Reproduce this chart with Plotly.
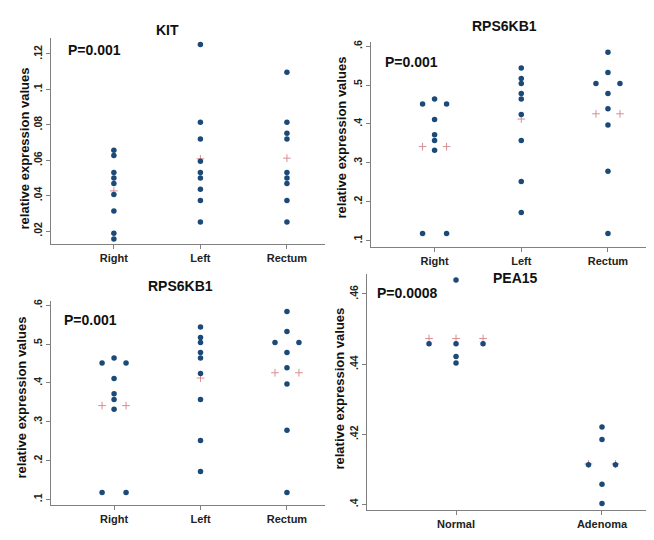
import plotly.graph_objects as go
import numpy as np

# data
regions = ["Right", "Left", "Rectum"]
kit_right = [0.0656, 0.0626, 0.053, 0.050, 0.0468, 0.0406, 0.0313, 0.0187, 0.0155]
kit_left = [0.1254, 0.0814, 0.072, 0.0594, 0.053, 0.050, 0.0436, 0.0373, 0.0251]
kit_rectum = [0.1097, 0.0814, 0.0752, 0.072, 0.053, 0.050, 0.0468, 0.0373, 0.0251]
kit_ticks = [0.02, 0.04, 0.06, 0.08, 0.10, 0.12]
kit_ticktext = [".02", ".04", ".06", ".08", ".1", ".12"]

rps_right = [0.464, 0.451, 0.451, 0.411, 0.372, 0.357, 0.332, 0.118, 0.118]
rps_left = [0.544, 0.517, 0.504, 0.478, 0.464, 0.424, 0.357, 0.252, 0.172]
rps_rectum = [0.584, 0.532, 0.504, 0.504, 0.478, 0.439, 0.397, 0.278, 0.118]
rps_ticks = [0.1, 0.2, 0.3, 0.4, 0.5, 0.6]
rps_ticktext = [".1", ".2", ".3", ".4", ".5", ".6"]

tissue = ["Normal", "Adenoma"]
pea_normal = [0.464, 0.4458, 0.4458, 0.4458, 0.4422, 0.4403]
pea_adenoma = [0.4221, 0.4185, 0.4113, 0.4113, 0.4058, 0.4003]
pea_ticks = [0.40, 0.42, 0.44, 0.46]
pea_ticktext = [".4", ".42", ".44", ".46"]

# the page body keeps its default 8px margin, so the figure is 8px smaller
# on each side and window coordinates are shifted by that much
OFF = 8
W, H = 654 - OFF, 540 - 2 * OFF
NAVY = "#1b4a78"
MEAN_RED = "#d98e92"
AXIS = "#808080"
FONT = "Liberation Sans"


def px(x, y):
    return (x - OFF) / W, 1 - (y - OFF) / H


panels = [
    dict(title="KIT", pval="P=0.001", cats=regions, groups=[kit_right, kit_left, kit_rectum],
         ticks=kit_ticks, ticktext=kit_ticktext, box=(50.7, 36.5, 325, 242.5),
         xr=[0.27, 3.44], yr=[0.0129, 0.1288], gap=0.277,
         tpos=(167, 28), ppos=(66, 48), ypos=(24, 147)),
    dict(title="RPS6KB1", pval="P=0.001", cats=regions, groups=[rps_right, rps_left, rps_rectum],
         ticks=rps_ticks, ticktext=rps_ticktext, box=(371.3, 40, 648.7, 245.7),
         xr=[0.27, 3.47], yr=[0.0838, 0.611], gap=0.277,
         tpos=(504, 24), ppos=(383, 60), ypos=(342, 136)),
    dict(title="RPS6KB1", pval="P=0.001", cats=regions, groups=[rps_right, rps_left, rps_rectum],
         ticks=rps_ticks, ticktext=rps_ticktext, box=(50.7, 300, 325, 505),
         xr=[0.267, 3.44], yr=[0.0855, 0.611], gap=0.277,
         tpos=(180, 285), ppos=(62, 319), ypos=(22, 397)),
    dict(title="PEA15", pval="P=0.0008", cats=tissue, groups=[pea_normal, pea_adenoma],
         ticks=pea_ticks, ticktext=pea_ticktext, box=(367, 273, 648.7, 510),
         xr=[0.39, 2.32], yr=[0.3984, 0.4657], gap=0.185,
         tpos=(515, 277), ppos=(375, 292), ypos=(340, 388)),
]

fig = go.Figure()
annotations = []
layout = {}

for i, p in enumerate(panels, start=1):
    xa, ya = f"x{i}", f"y{i}"
    for j, vals in enumerate(p["groups"]):
        counts = {}
        for v in vals:
            counts[v] = counts.get(v, 0) + 1
        seen = {}
        xs = []
        for v in vals:
            n, k = counts[v], seen.get(v, 0)
            seen[v] = k + 1
            xs.append(j + 1 + (k - (n - 1) / 2) * p["gap"])
        # mean marker, spread over the widest row of ties like Stata does
        widest = max(counts.values())
        mx = [j + 1 + (k - (widest - 1) / 2) * p["gap"] for k in range(widest)]
        fig.add_trace(go.Scatter(x=mx, y=[np.mean(vals)] * widest, mode="markers",
                                 xaxis=xa, yaxis=ya, showlegend=False,
                                 marker=dict(symbol="cross-thin", size=5.5,
                                             line=dict(color=MEAN_RED, width=1))))
        fig.add_trace(go.Scatter(x=xs, y=vals, mode="markers", xaxis=xa, yaxis=ya,
                                 marker=dict(color=NAVY, size=5.5), showlegend=False))

    x0, y0, x1, y1 = p["box"]
    sfx = "" if i == 1 else str(i)
    layout["xaxis" + sfx] = dict(
        domain=[px(x0, 0)[0], px(x1, 0)[0]], anchor=ya, range=p["xr"],
        tickvals=list(range(1, len(p["cats"]) + 1)), ticktext=p["cats"],
        showline=True, linecolor=AXIS, linewidth=1, ticks="outside", ticklen=4,
        tickcolor=AXIS, showgrid=False, zeroline=False,
        tickfont=dict(family=FONT, size=11, color="#222", weight="bold"))
    layout["yaxis" + sfx] = dict(
        domain=[px(0, y1)[1], px(0, y0)[1]], anchor=xa, range=p["yr"],
        tickvals=p["ticks"], ticktext=p["ticktext"], tickangle=-90,
        showline=True, linecolor=AXIS, linewidth=1, ticks="outside", ticklen=4,
        tickcolor=AXIS, showgrid=False, zeroline=False,
        tickfont=dict(family=FONT, size=10.5, color="#222", weight="bold"))

    tx, ty = px(*p["tpos"])
    annotations.append(dict(x=tx, y=ty, xref="paper", yref="paper", showarrow=False,
                            text=f"<b>{p['title']}</b>", xanchor="center", yanchor="middle",
                            font=dict(family=FONT, size=14, color="#111")))
    qx, qy = px(*p["ppos"])
    annotations.append(dict(x=qx, y=qy, xref="paper", yref="paper", showarrow=False,
                            text=f"<b>{p['pval']}</b>", xanchor="left", yanchor="middle",
                            font=dict(family=FONT, size=14, color="#111")))
    rx, ry = px(*p["ypos"])
    annotations.append(dict(x=rx, y=ry, xref="paper", yref="paper", showarrow=False,
                            text="<b>relative expression values</b>", textangle=-90,
                            xanchor="center", yanchor="middle",
                            font=dict(family=FONT, size=13, color="#111")))

fig.update_layout(width=W, height=H, margin=dict(l=0, r=0, t=0, b=0),
                  paper_bgcolor="white", plot_bgcolor="white",
                  annotations=annotations, **layout)

fig.write_html("out.html")
